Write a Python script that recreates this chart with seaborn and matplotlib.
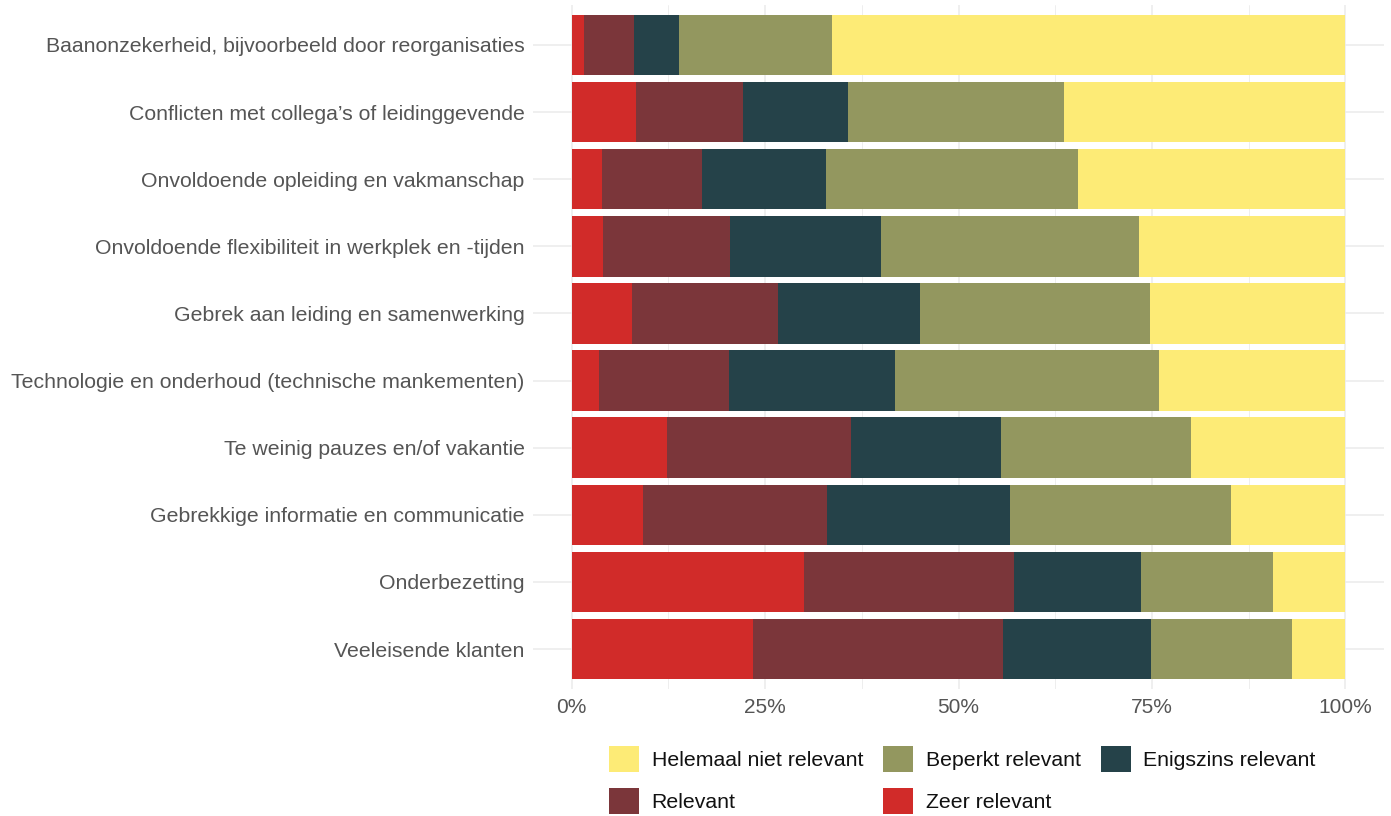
import numpy as np
import pandas as pd
import matplotlib.pyplot as plt
import seaborn as sns
from matplotlib.patches import Patch
from matplotlib.ticker import PercentFormatter, MultipleLocator

# categorieën (van boven naar beneden)
factoren = [
    "Baanonzekerheid, bijvoorbeeld door reorganisaties",
    "Conflicten met collega’s of leidinggevende",
    "Onvoldoende opleiding en vakmanschap",
    "Onvoldoende flexibiliteit in werkplek en -tijden",
    "Gebrek aan leiding en samenwerking",
    "Technologie en onderhoud (technische mankementen)",
    "Te weinig pauzes en/of vakantie",
    "Gebrekkige informatie en communicatie",
    "Onderbezetting",
    "Veeleisende klanten",
]

# aandelen in procent per antwoordcategorie
zeer_relevant = [1.6, 8.3, 3.9, 4.1, 7.8, 3.5, 12.3, 9.2, 30.0, 23.4]
relevant = [6.4, 13.9, 12.9, 16.3, 18.9, 16.8, 23.8, 23.8, 27.2, 32.4]
enigszins = [5.9, 13.5, 16.1, 19.5, 18.3, 21.4, 19.4, 23.6, 16.4, 19.1]
beperkt = [19.7, 27.9, 32.6, 33.4, 29.7, 34.1, 24.6, 28.6, 17.1, 18.2]
helemaal_niet = [66.4, 36.4, 34.5, 26.6, 25.3, 24.1, 19.9, 14.8, 9.3, 6.9]

antwoorden = ["Zeer relevant", "Relevant", "Enigszins relevant",
              "Beperkt relevant", "Helemaal niet relevant"]
kleuren = {
    "Zeer relevant": "#D12B29",
    "Relevant": "#7B363A",
    "Enigszins relevant": "#254249",
    "Beperkt relevant": "#93975F",
    "Helemaal niet relevant": "#FDEB76",
}

df = pd.DataFrame({
    "factor": factoren,
    "Zeer relevant": zeer_relevant,
    "Relevant": relevant,
    "Enigszins relevant": enigszins,
    "Beperkt relevant": beperkt,
    "Helemaal niet relevant": helemaal_niet,
})
# normaliseren naar 1 en cumulatief optellen
waarden = df[antwoorden].div(df[antwoorden].sum(axis=1), axis=0)
cum = waarden.cumsum(axis=1)

sns.set_theme(style="whitegrid")
plt.rcParams['font.family'] = ['Liberation Sans', 'DejaVu Sans']

fig = plt.figure(figsize=(13.91, 8.16), dpi=100)
ax = fig.add_axes([533 / 1391, 1 - 689.3 / 816, (1384 - 533) / 1391, (689.3 - 4.7) / 816])

# overlappende balken: eerst het totaal, daarna steeds kortere cumulatieven
for antw in reversed(antwoorden):
    sns.barplot(x=cum[antw].values, y=df["factor"], color=kleuren[antw],
                orient="h", width=0.9, saturation=1, linewidth=0, ax=ax)

ax.set_xlim(-0.05, 1.05)
ax.set_ylim(9.6, -0.6)
ax.xaxis.set_major_locator(MultipleLocator(0.25))
ax.xaxis.set_minor_locator(MultipleLocator(0.125))
ax.xaxis.set_major_formatter(PercentFormatter(1.0, decimals=0))
ax.set_facecolor("white")
ax.grid(which="major", color="#EBEBEB", linewidth=1.1)
ax.grid(which="minor", axis="x", color="#EBEBEB", linewidth=0.6)
ax.set_axisbelow(True)
for s in ax.spines.values():
    s.set_visible(False)
ax.set_xlabel("")
ax.set_ylabel("")
ax.tick_params(axis="y", length=0, labelsize=15.3, labelcolor="#555555", pad=6)
ax.tick_params(axis="x", length=0, labelsize=15, labelcolor="#555555", pad=6)

volgorde = ["Helemaal niet relevant", "Relevant", "Beperkt relevant",
            "Zeer relevant", "Enigszins relevant"]
handles = [Patch(facecolor=kleuren[a], edgecolor="none", label=a) for a in volgorde]
fig.legend(handles=handles, loc="upper left", bbox_to_anchor=(609 / 1391, 1 - 746 / 816),
           ncol=3, frameon=False, fontsize=15.3, borderpad=0, borderaxespad=0,
           handlelength=1.4, handleheight=1.5, handletextpad=0.6,
           labelspacing=0.75, columnspacing=0.95, labelcolor="#111111")

fig.savefig("out.png", dpi=100, facecolor="white")
